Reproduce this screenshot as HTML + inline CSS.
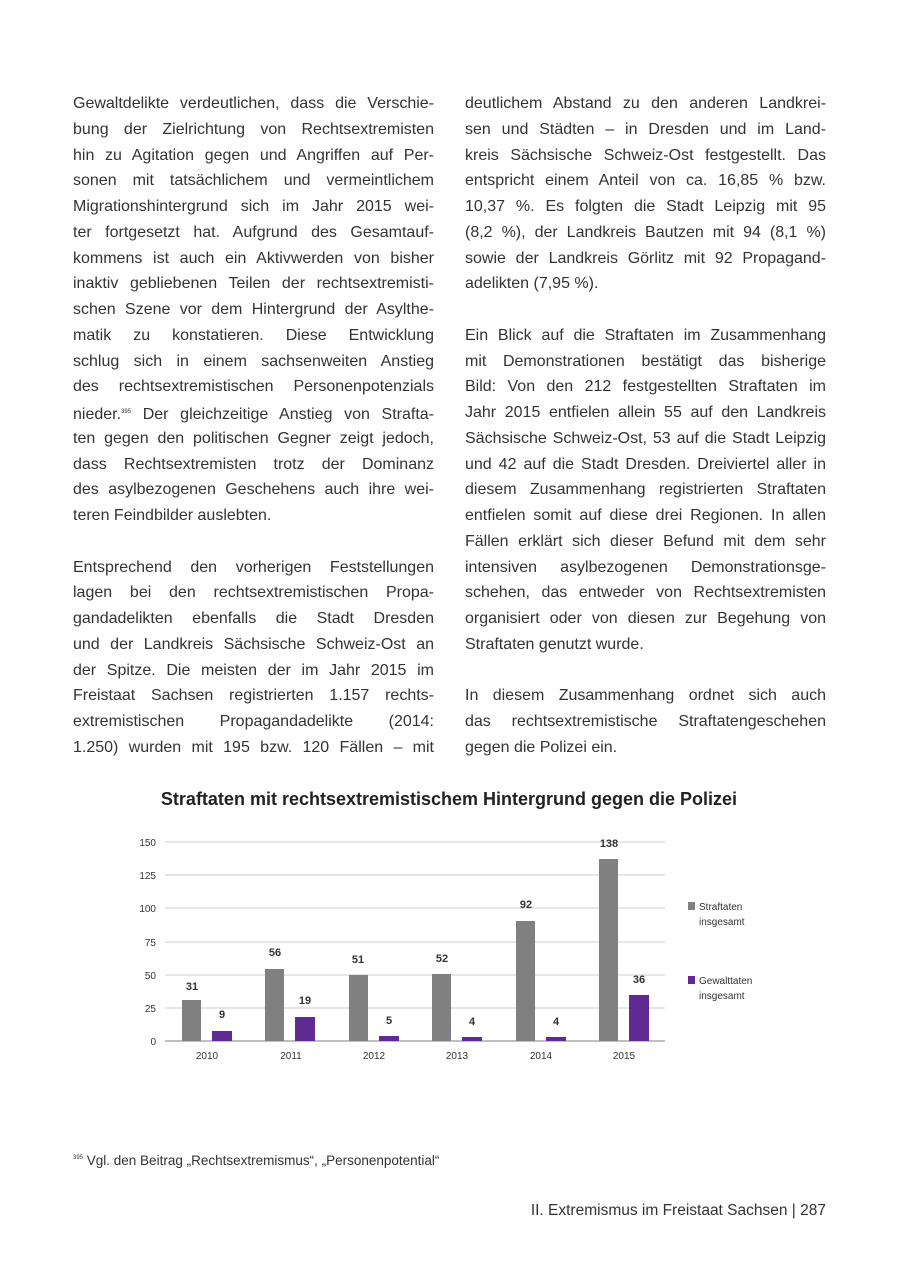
<!DOCTYPE html>
<html><head><meta charset="utf-8"><style>
body{margin:0;background:#fff;}
.page{position:relative;width:900px;height:1276px;background:#fff;font-family:"Liberation Sans",sans-serif;color:#333;}
.col{position:absolute;width:361px;font-size:16px;line-height:25.75px;}
.col div{text-align:justify;text-align-last:justify;white-space:nowrap;height:25.75px;overflow:visible;}
.col div.l{text-align-last:left;}
.col div.g{height:25.75px;}
sup{font-size:6px;vertical-align:6px;}
</style></head><body><div class="page">
<div class="col" style="left:73px;top:91px;">
<div>Gewaltdelikte verdeutlichen, dass die Verschie-</div>
<div>bung der Zielrichtung von Rechtsextremisten</div>
<div>hin zu Agitation gegen und Angriffen auf Per-</div>
<div>sonen mit tatsächlichem und vermeintlichem</div>
<div>Migrationshintergrund sich im Jahr 2015 wei-</div>
<div>ter fortgesetzt hat. Aufgrund des Gesamtauf-</div>
<div>kommens ist auch ein Aktivwerden von bisher</div>
<div>inaktiv gebliebenen Teilen der rechtsextremisti-</div>
<div>schen Szene vor dem Hintergrund der Asylthe-</div>
<div>matik zu konstatieren. Diese Entwicklung</div>
<div>schlug sich in einem sachsenweiten Anstieg</div>
<div>des rechtsextremistischen Personenpotenzials</div>
<div>nieder.<sup>395</sup> Der gleichzeitige Anstieg von Strafta-</div>
<div>ten gegen den politischen Gegner zeigt jedoch,</div>
<div>dass Rechtsextremisten trotz der Dominanz</div>
<div>des asylbezogenen Geschehens auch ihre wei-</div>
<div class="l">teren Feindbilder auslebten.</div>
<div class="g"></div>
<div>Entsprechend den vorherigen Feststellungen</div>
<div>lagen bei den rechtsextremistischen Propa-</div>
<div>gandadelikten ebenfalls die Stadt Dresden</div>
<div>und der Landkreis Sächsische Schweiz-Ost an</div>
<div>der Spitze. Die meisten der im Jahr 2015 im</div>
<div>Freistaat Sachsen registrierten 1.157 rechts-</div>
<div>extremistischen Propagandadelikte (2014:</div>
<div>1.250) wurden mit 195 bzw. 120 Fällen – mit</div>
</div>
<div class="col" style="left:465px;top:91px;">
<div>deutlichem Abstand zu den anderen Landkrei-</div>
<div>sen und Städten – in Dresden und im Land-</div>
<div>kreis Sächsische Schweiz-Ost festgestellt. Das</div>
<div>entspricht einem Anteil von ca. 16,85 % bzw.</div>
<div>10,37 %. Es folgten die Stadt Leipzig mit 95</div>
<div>(8,2 %), der Landkreis Bautzen mit 94 (8,1 %)</div>
<div>sowie der Landkreis Görlitz mit 92 Propagand-</div>
<div class="l">adelikten (7,95 %).</div>
<div class="g"></div>
<div>Ein Blick auf die Straftaten im Zusammenhang</div>
<div>mit Demonstrationen bestätigt das bisherige</div>
<div>Bild: Von den 212 festgestellten Straftaten im</div>
<div>Jahr 2015 entfielen allein 55 auf den Landkreis</div>
<div>Sächsische Schweiz-Ost, 53 auf die Stadt Leipzig</div>
<div>und 42 auf die Stadt Dresden. Dreiviertel aller in</div>
<div>diesem Zusammenhang registrierten Straftaten</div>
<div>entfielen somit auf diese drei Regionen. In allen</div>
<div>Fällen erklärt sich dieser Befund mit dem sehr</div>
<div>intensiven asylbezogenen Demonstrationsge-</div>
<div>schehen, das entweder von Rechtsextremisten</div>
<div>organisiert oder von diesen zur Begehung von</div>
<div class="l">Straftaten genutzt wurde.</div>
<div class="g"></div>
<div>In diesem Zusammenhang ordnet sich auch</div>
<div>das rechtsextremistische Straftatengeschehen</div>
<div class="l">gegen die Polizei ein.</div>
</div>
<svg style="position:absolute;left:0;top:0" width="900" height="1276" font-family="Liberation Sans, sans-serif">
<text x="449" y="805" text-anchor="middle" font-size="18" font-weight="bold" fill="#222">Straftaten mit rechtsextremistischem Hintergrund gegen die Polizei</text>
<g stroke="#ccc" stroke-width="1">
<line x1="165" x2="665" y1="842" y2="842"/><line x1="165" x2="665" y1="875" y2="875"/>
<line x1="165" x2="665" y1="908" y2="908"/><line x1="165" x2="665" y1="942" y2="942"/>
<line x1="165" x2="665" y1="975" y2="975"/><line x1="165" x2="665" y1="1008" y2="1008"/>
</g>
<line x1="165" x2="665" y1="1041" y2="1041" stroke="#999" stroke-width="1.2"/>
<g font-size="10" fill="#333" text-anchor="end">
<text x="156" y="846">150</text><text x="156" y="879">125</text><text x="156" y="912">100</text>
<text x="156" y="946">75</text><text x="156" y="979">50</text><text x="156" y="1012">25</text><text x="156" y="1045">0</text>
</g>
<g fill="#808080">
<rect x="182" y="1000" width="19" height="41"/><rect x="265" y="969" width="19" height="72"/>
<rect x="349" y="975" width="19" height="66"/><rect x="432" y="974" width="19" height="67"/>
<rect x="516" y="921" width="19" height="120"/><rect x="599" y="859" width="19" height="182"/>
</g>
<g fill="#5f2a91">
<rect x="212" y="1031" width="20" height="10"/><rect x="295" y="1017" width="20" height="24"/>
<rect x="379" y="1036" width="20" height="5"/><rect x="462" y="1037" width="20" height="4"/>
<rect x="546" y="1037" width="20" height="4"/><rect x="629" y="995" width="20" height="46"/>
</g>
<g font-size="11" font-weight="bold" fill="#333" text-anchor="middle">
<text x="192" y="990">31</text><text x="222" y="1018">9</text>
<text x="275" y="956">56</text><text x="305" y="1004">19</text>
<text x="358" y="963">51</text><text x="389" y="1024">5</text>
<text x="442" y="962">52</text><text x="472" y="1025">4</text>
<text x="526" y="908">92</text><text x="556" y="1025">4</text>
<text x="609" y="847">138</text><text x="639" y="983">36</text>
</g>
<g font-size="10" fill="#333" text-anchor="middle">
<text x="207" y="1059">2010</text><text x="291" y="1059">2011</text><text x="374" y="1059">2012</text>
<text x="457" y="1059">2013</text><text x="541" y="1059">2014</text><text x="624" y="1059">2015</text>
</g>
<rect x="688" y="902" width="7" height="8" fill="#808080"/>
<text x="699" y="910" font-size="10" fill="#333">Straftaten</text>
<text x="699" y="925" font-size="10" fill="#333">insgesamt</text>
<rect x="688" y="976" width="7" height="8" fill="#5f2a91"/>
<text x="699" y="984" font-size="10" fill="#333">Gewalttaten</text>
<text x="699" y="999" font-size="10" fill="#333">insgesamt</text>
<text x="73" y="1165" font-size="13.5" fill="#333"><tspan font-size="6" dy="-6">395</tspan><tspan dy="6"> Vgl. den Beitrag „Rechtsextremismus“, „Personenpotential“</tspan></text>
<text x="826" y="1215" text-anchor="end" font-size="15.5" fill="#333">II. Extremismus im Freistaat Sachsen | 287</text>
</svg>
</div></body></html>
